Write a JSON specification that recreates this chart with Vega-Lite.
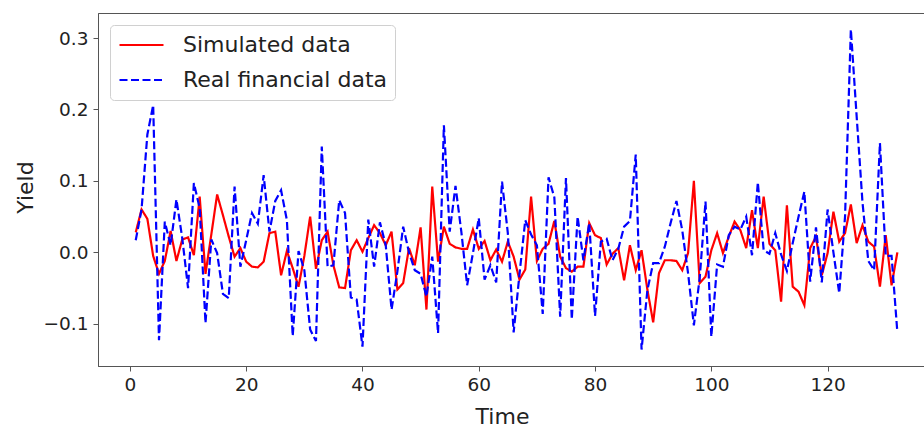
{
  "$schema": "https://vega.github.io/schema/vega-lite/v6.json",
  "autosize": {"type": "none"},
  "padding": {"left": 98, "top": 13, "right": 0, "bottom": 63},
  "width": 826,
  "height": 353,
  "background": "white",
  "config": {
    "font": "DejaVu Sans",
    "view": {"stroke": "#555555", "strokeWidth": 1}
  },
  "data": {"values": [
    {"t":1,"Simulated data":0.028,"Real financial data":0.017},
    {"t":2,"Simulated data":0.060,"Real financial data":0.060},
    {"t":3,"Simulated data":0.047,"Real financial data":0.165},
    {"t":4,"Simulated data":-0.005,"Real financial data":0.206},
    {"t":5,"Simulated data":-0.030,"Real financial data":-0.123},
    {"t":6,"Simulated data":-0.012,"Real financial data":0.043},
    {"t":7,"Simulated data":0.030,"Real financial data":0.010},
    {"t":8,"Simulated data":-0.012,"Real financial data":0.074},
    {"t":9,"Simulated data":0.018,"Real financial data":0.020},
    {"t":10,"Simulated data":0.021,"Real financial data":-0.050},
    {"t":11,"Simulated data":-0.004,"Real financial data":0.097},
    {"t":12,"Simulated data":0.078,"Real financial data":0.062},
    {"t":13,"Simulated data":-0.030,"Real financial data":-0.099},
    {"t":14,"Simulated data":0.025,"Real financial data":0.018},
    {"t":15,"Simulated data":0.081,"Real financial data":-0.001},
    {"t":16,"Simulated data":0.052,"Real financial data":-0.058},
    {"t":17,"Simulated data":0.022,"Real financial data":-0.064},
    {"t":18,"Simulated data":-0.006,"Real financial data":0.092},
    {"t":19,"Simulated data":0.006,"Real financial data":-0.020},
    {"t":20,"Simulated data":-0.013,"Real financial data":0.017},
    {"t":21,"Simulated data":-0.020,"Real financial data":0.055},
    {"t":22,"Simulated data":-0.021,"Real financial data":0.040},
    {"t":23,"Simulated data":-0.013,"Real financial data":0.108},
    {"t":24,"Simulated data":0.027,"Real financial data":0.029},
    {"t":25,"Simulated data":0.029,"Real financial data":0.072},
    {"t":26,"Simulated data":-0.032,"Real financial data":0.087},
    {"t":27,"Simulated data":0.002,"Real financial data":0.045},
    {"t":28,"Simulated data":-0.022,"Real financial data":-0.117},
    {"t":29,"Simulated data":-0.048,"Real financial data":0.002},
    {"t":30,"Simulated data":-0.005,"Real financial data":-0.025},
    {"t":31,"Simulated data":0.050,"Real financial data":-0.108},
    {"t":32,"Simulated data":-0.023,"Real financial data":-0.124},
    {"t":33,"Simulated data":0.017,"Real financial data":0.148},
    {"t":34,"Simulated data":0.029,"Real financial data":-0.020},
    {"t":35,"Simulated data":-0.018,"Real financial data":-0.018},
    {"t":36,"Simulated data":-0.049,"Real financial data":0.073},
    {"t":37,"Simulated data":-0.050,"Real financial data":0.055},
    {"t":38,"Simulated data":0.003,"Real financial data":-0.063},
    {"t":39,"Simulated data":0.017,"Real financial data":-0.066},
    {"t":40,"Simulated data":0.001,"Real financial data":-0.132},
    {"t":41,"Simulated data":0.020,"Real financial data":0.046},
    {"t":42,"Simulated data":0.038,"Real financial data":-0.020},
    {"t":43,"Simulated data":0.027,"Real financial data":0.042},
    {"t":44,"Simulated data":0.010,"Real financial data":0.010},
    {"t":45,"Simulated data":0.029,"Real financial data":-0.080},
    {"t":46,"Simulated data":-0.052,"Real financial data":-0.027},
    {"t":47,"Simulated data":-0.043,"Real financial data":0.036},
    {"t":48,"Simulated data":0.006,"Real financial data":0.000},
    {"t":49,"Simulated data":-0.018,"Real financial data":-0.025},
    {"t":50,"Simulated data":0.035,"Real financial data":-0.030},
    {"t":51,"Simulated data":-0.080,"Real financial data":-0.062},
    {"t":52,"Simulated data":0.092,"Real financial data":-0.006},
    {"t":53,"Simulated data":-0.013,"Real financial data":-0.113},
    {"t":54,"Simulated data":0.036,"Real financial data":0.178},
    {"t":55,"Simulated data":0.012,"Real financial data":0.029},
    {"t":56,"Simulated data":0.007,"Real financial data":0.093},
    {"t":57,"Simulated data":0.005,"Real financial data":0.029},
    {"t":58,"Simulated data":0.005,"Real financial data":-0.046},
    {"t":59,"Simulated data":0.032,"Real financial data":-0.001},
    {"t":60,"Simulated data":0.005,"Real financial data":0.048},
    {"t":61,"Simulated data":0.016,"Real financial data":-0.038},
    {"t":62,"Simulated data":-0.011,"Real financial data":-0.018},
    {"t":63,"Simulated data":0.004,"Real financial data":-0.042},
    {"t":64,"Simulated data":-0.013,"Real financial data":0.099},
    {"t":65,"Simulated data":0.015,"Real financial data":0.027},
    {"t":66,"Simulated data":-0.006,"Real financial data":-0.112},
    {"t":67,"Simulated data":-0.038,"Real financial data":-0.031},
    {"t":68,"Simulated data":-0.024,"Real financial data":0.045},
    {"t":69,"Simulated data":0.078,"Real financial data":0.025},
    {"t":70,"Simulated data":-0.012,"Real financial data":0.010},
    {"t":71,"Simulated data":0.005,"Real financial data":-0.086},
    {"t":72,"Simulated data":0.012,"Real financial data":0.105},
    {"t":73,"Simulated data":0.044,"Real financial data":0.077},
    {"t":74,"Simulated data":-0.006,"Real financial data":-0.090},
    {"t":75,"Simulated data":-0.022,"Real financial data":0.104},
    {"t":76,"Simulated data":-0.027,"Real financial data":-0.094},
    {"t":77,"Simulated data":-0.020,"Real financial data":0.050},
    {"t":78,"Simulated data":-0.020,"Real financial data":-0.011},
    {"t":79,"Simulated data":0.041,"Real financial data":0.041},
    {"t":80,"Simulated data":0.024,"Real financial data":-0.089},
    {"t":81,"Simulated data":0.020,"Real financial data":0.015},
    {"t":82,"Simulated data":-0.017,"Real financial data":0.019},
    {"t":83,"Simulated data":-0.002,"Real financial data":-0.011},
    {"t":84,"Simulated data":0.006,"Real financial data":0.005},
    {"t":85,"Simulated data":-0.039,"Real financial data":0.036},
    {"t":86,"Simulated data":0.010,"Real financial data":0.044},
    {"t":87,"Simulated data":-0.025,"Real financial data":0.137},
    {"t":88,"Simulated data":0.003,"Real financial data":-0.136},
    {"t":89,"Simulated data":-0.052,"Real financial data":-0.053},
    {"t":90,"Simulated data":-0.098,"Real financial data":-0.015},
    {"t":91,"Simulated data":-0.029,"Real financial data":-0.015},
    {"t":92,"Simulated data":-0.011,"Real financial data":0.008},
    {"t":93,"Simulated data":-0.011,"Real financial data":0.041},
    {"t":94,"Simulated data":-0.012,"Real financial data":0.072},
    {"t":95,"Simulated data":-0.025,"Real financial data":0.031},
    {"t":96,"Simulated data":-0.001,"Real financial data":-0.029},
    {"t":97,"Simulated data":0.100,"Real financial data":-0.102},
    {"t":98,"Simulated data":-0.043,"Real financial data":-0.036},
    {"t":99,"Simulated data":-0.034,"Real financial data":0.071},
    {"t":100,"Simulated data":0.003,"Real financial data":-0.118},
    {"t":101,"Simulated data":0.027,"Real financial data":-0.017},
    {"t":102,"Simulated data":-0.001,"Real financial data":-0.020},
    {"t":103,"Simulated data":0.022,"Real financial data":0.024},
    {"t":104,"Simulated data":0.043,"Real financial data":0.036},
    {"t":105,"Simulated data":0.031,"Real financial data":0.032},
    {"t":106,"Simulated data":0.006,"Real financial data":0.050},
    {"t":107,"Simulated data":0.059,"Real financial data":-0.004},
    {"t":108,"Simulated data":0.006,"Real financial data":0.098},
    {"t":109,"Simulated data":0.078,"Real financial data":0.003},
    {"t":110,"Simulated data":0.012,"Real financial data":-0.002},
    {"t":111,"Simulated data":0.003,"Real financial data":0.027},
    {"t":112,"Simulated data":-0.069,"Real financial data":-0.003},
    {"t":113,"Simulated data":0.066,"Real financial data":-0.026},
    {"t":114,"Simulated data":-0.048,"Real financial data":0.013},
    {"t":115,"Simulated data":-0.055,"Real financial data":0.050},
    {"t":116,"Simulated data":-0.074,"Real financial data":0.085},
    {"t":117,"Simulated data":0.006,"Real financial data":-0.041},
    {"t":118,"Simulated data":0.022,"Real financial data":0.035},
    {"t":119,"Simulated data":-0.032,"Real financial data":-0.042},
    {"t":120,"Simulated data":-0.001,"Real financial data":0.060},
    {"t":121,"Simulated data":0.057,"Real financial data":0.000},
    {"t":122,"Simulated data":0.015,"Real financial data":-0.057},
    {"t":123,"Simulated data":0.027,"Real financial data":0.050},
    {"t":124,"Simulated data":0.067,"Real financial data":0.312},
    {"t":125,"Simulated data":0.013,"Real financial data":0.190},
    {"t":126,"Simulated data":0.038,"Real financial data":0.070},
    {"t":127,"Simulated data":0.015,"Real financial data":-0.012},
    {"t":128,"Simulated data":0.008,"Real financial data":-0.025},
    {"t":129,"Simulated data":-0.048,"Real financial data":0.153},
    {"t":130,"Simulated data":0.024,"Real financial data":-0.005},
    {"t":131,"Simulated data":-0.046,"Real financial data":-0.005},
    {"t":132,"Simulated data":0.000,"Real financial data":-0.112}
  ]},
  "transform": [
    {"fold": ["Simulated data", "Real financial data"], "as": ["series", "yield"]}
  ],
  "mark": {"type": "line", "strokeWidth": 2.2, "clip": true},
  "encoding": {
    "x": {
      "field": "t", "type": "quantitative",
      "scale": {"domain": [-5.49, 136.58], "nice": false, "zero": false},
      "axis": {
        "title": "Time", "values": [0, 20, 40, 60, 80, 100, 120], "format": "d",
        "grid": false, "domainColor": "#555555", "tickColor": "#555555",
        "tickSize": 5, "labelPadding": 4, "labelFontSize": 18.5, "labelColor": "#222222",
        "labelFont": "DejaVu Sans", "titleFont": "DejaVu Sans",
        "titleFontSize": 22, "titleFontWeight": "normal", "titleColor": "#222222",
        "titleX": 404, "titleY": 57, "titleBaseline": "alphabetic"
      }
    },
    "y": {
      "field": "yield", "type": "quantitative",
      "scale": {"domain": [-0.159, 0.335], "nice": false, "zero": false},
      "axis": {
        "title": "Yield", "values": [-0.1, 0, 0.1, 0.2, 0.3], "format": ".1f",
        "grid": false, "domainColor": "#555555", "tickColor": "#555555",
        "tickSize": 5, "labelPadding": 5, "labelFontSize": 18.5, "labelColor": "#222222",
        "labelFont": "DejaVu Sans", "titleFont": "DejaVu Sans",
        "titleFontSize": 22, "titleFontWeight": "normal", "titleColor": "#222222",
        "titleX": -66, "titleY": 174, "titleBaseline": "alphabetic", "titleAngle": -90
      }
    },
    "color": {
      "field": "series", "type": "nominal",
      "scale": {"domain": ["Simulated data", "Real financial data"], "range": ["#ff0000", "#0000ff"]},
      "legend": {
        "title": null, "orient": "top-left", "offset": 12,
        "symbolType": "stroke", "symbolSize": 1936, "symbolStrokeWidth": 2.2,
        "clipHeight": 24, "rowPadding": 11, "padding": 8,
        "labelFontSize": 22, "labelFont": "DejaVu Sans", "labelColor": "#222222", "labelOffset": 18,
        "labelLimit": 400,
        "fillColor": "white", "strokeColor": "#d0d0d0", "cornerRadius": 4
      }
    },
    "strokeDash": {
      "field": "series", "type": "nominal",
      "scale": {"domain": ["Simulated data", "Real financial data"], "range": [[1, 0], [8, 3.5]]},
      "legend": {
        "title": null, "orient": "top-left", "offset": 12,
        "symbolType": "stroke", "symbolSize": 1936, "symbolStrokeWidth": 2.2,
        "clipHeight": 24, "rowPadding": 11, "padding": 8,
        "labelFontSize": 22, "labelFont": "DejaVu Sans", "labelColor": "#222222", "labelOffset": 18,
        "labelLimit": 400,
        "fillColor": "white", "strokeColor": "#d0d0d0", "cornerRadius": 4
      }
    }
  }
}
